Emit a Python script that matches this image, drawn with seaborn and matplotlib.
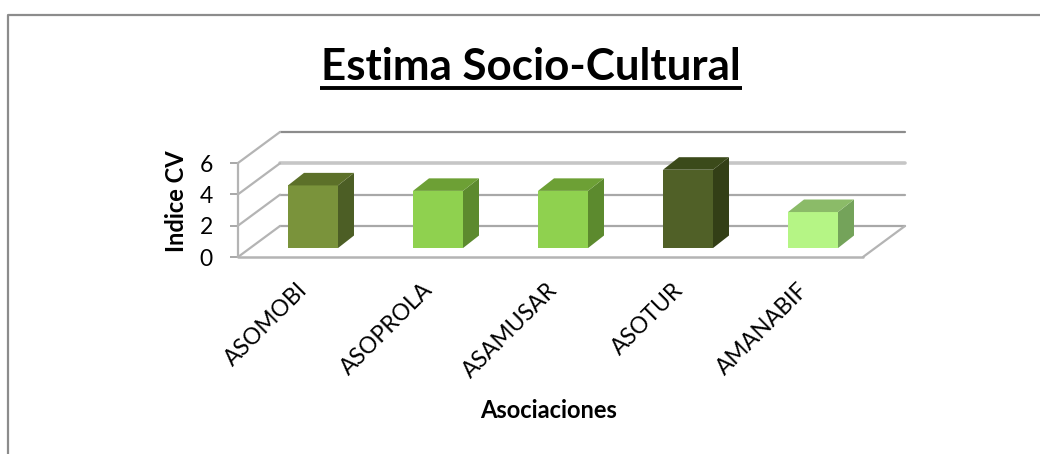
import matplotlib
matplotlib.use("Agg")
import matplotlib.pyplot as plt
import matplotlib.transforms as mtransforms
import pandas as pd
import seaborn as sns

# datos
asociaciones = ["ASOMOBI", "ASOPROLA", "ASAMUSAR", "ASOTUR", "AMANABIF"]
indice_cv = [4.0, 3.65, 3.65, 5.0, 2.3]
color_frente = ["#7a933b", "#8fd14f", "#8fd14f", "#506027", "#b5f585"]
color_lado = ["#4c5e25", "#5c8a2e", "#5c8a2e", "#333f16", "#74a35a"]
color_arriba = ["#5c7029", "#6da035", "#6da035", "#3b4a1a", "#8bbb68"]
y_ticks = [0, 2, 4, 6]

df = pd.DataFrame({"asociacion": asociaciones, "indice": indice_cv})

sns.set_theme(style="white")
plt.rcParams["font.family"] = ["Lato", "DejaVu Sans"]

W, H = 1040, 454
fig = plt.figure(figsize=(W / 100, H / 100), dpi=100)
ax = fig.add_axes([238 / W, (H - 257) / H, 625 / W, 94 / H])

# profundidad de la perspectiva en unidades de datos
prof_x, prof_y = 0.336, 1.98
bar_w = 0.4
bar_px, bar_py = 0.128, 0.8

sns.barplot(df, x="asociacion", y="indice", hue="asociacion", palette=color_frente,
            width=bar_w, legend=False, dodge=False, saturation=1, ax=ax, zorder=5)
ax.set_xlim(-0.5, 4.5)
ax.set_ylim(0, 6)

# barras desplazadas al medio del fondo
desp = mtransforms.Affine2D().translate(0.1, 0.57) + ax.transData
for patch in ax.patches:
    patch.set_transform(desp)
    patch.set_edgecolor("none")
    patch.set_clip_on(False)

for i, v in enumerate(indice_cv):
    x0, x1 = i - bar_w / 2, i + bar_w / 2
    ax.fill([x1, x1 + bar_px, x1 + bar_px, x1], [0, bar_py, v + bar_py, v],
            color=color_lado[i], lw=0, transform=desp, zorder=5, clip_on=False)
    ax.fill([x0, x1, x1 + bar_px, x0 + bar_px], [v, v, v + bar_py, v + bar_py],
            color=color_arriba[i], lw=0, transform=desp, zorder=5, clip_on=False)

# paredes y piso
gris = "#a8a8a8"
x_izq, x_der = -0.5, 4.5
for t in y_ticks:
    if t == 6:
        c, lw = "#8c8c8c", 1.6
    elif t == 4:
        c, lw = "#c6c6c6", 2.6
    else:
        c, lw = gris, 1.6
    ax.plot([x_izq + prof_x, x_der + prof_x], [t + prof_y, t + prof_y], color=c, lw=lw,
            clip_on=False, zorder=1)
    ax.plot([x_izq, x_izq + prof_x], [t, t + prof_y], color="#b4b4b4", lw=1.6,
            clip_on=False, zorder=1)
ax.plot([x_der, x_der + prof_x], [0, prof_y], color="#b4b4b4", lw=1.6, clip_on=False, zorder=1)
ax.plot([x_izq, x_der], [0, 0], color="#b4b4b4", lw=1.8, clip_on=False, zorder=2)
ax.plot([x_izq, x_izq], [0, 6], color="#b4b4b4", lw=1.6, clip_on=False, zorder=2)

ax.patch.set_alpha(0)
sns.despine(ax=ax, left=True, bottom=True)
ax.set_yticks(y_ticks)
ax.tick_params(axis="y", left=True, length=6, width=1.4, color=gris, labelsize=16.5,
               labelcolor="black", pad=12)
ax.set_xticks(range(5))
ax.set_xticklabels(asociaciones, rotation=45, ha="right", rotation_mode="anchor",
                   fontsize=16.5, color="black")
ax.tick_params(axis="x", bottom=False, pad=10)
# las etiquetas van un poco a la izquierda de cada categoria
corre = mtransforms.ScaledTranslation(-3.5 / 100, 0, fig.dpi_scale_trans)
for lab in ax.get_xticklabels():
    lab.set_transform(lab.get_transform() + corre)
ax.set_xlabel("")
ax.set_ylabel("")

fig.text(176 / W, 1 - 201 / H, "Indice CV", rotation=90, ha="center", va="center",
         fontsize=17, fontweight="bold", color="black")
fig.text(549 / W, 1 - 411 / H, "Asociaciones", ha="center", va="center",
         fontsize=17, fontweight="bold", color="black")
fig.text(531 / W, 1 - 80 / H, "Estima Socio-Cultural", ha="center", va="baseline",
         fontsize=31.6, fontweight="bold", color="black")

# subrayado del titulo
fig.add_artist(plt.Line2D([320 / W, 742 / W], [1 - 87.5 / H, 1 - 87.5 / H], color="black", lw=2.8,
                          solid_capstyle="butt"))

# marco del grafico
fig.add_artist(plt.Line2D([7.5 / W, 7.5 / W, 1], [0, 1 - 14.5 / H, 1 - 14.5 / H],
                          color="#8c8c8c", lw=1.6))

fig.savefig("out.png", dpi=100, facecolor="white")
